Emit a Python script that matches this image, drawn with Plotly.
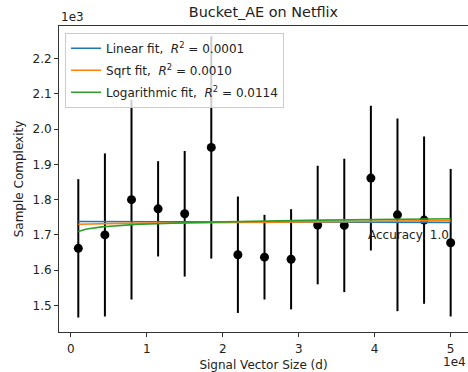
import numpy as np
import plotly.graph_objects as go

# ---- data ----
signal_size = [1000, 4500, 8000, 11500, 15000, 18500, 22000, 25500,
               29000, 32500, 36000, 39500, 43000, 46500, 50000]
sample_complexity = [1662, 1700, 1800, 1774, 1760, 1948, 1644, 1637,
                     1631, 1728, 1727, 1861, 1757, 1742, 1678]
sample_err = [196, 231, 283, 135, 178, 315, 165, 120,
              142, 168, 189, 205, 273, 237, 209]

x_ticks = [0, 10000, 20000, 30000, 40000, 50000]
x_tick_labels = ["0", "1", "2", "3", "4", "5"]
y_ticks = [1500, 1600, 1700, 1800, 1900, 2000, 2100, 2200]
y_tick_labels = ["1.5", "1.6", "1.7", "1.8", "1.9", "2.0", "2.1", "2.2"]

fit_labels = ["Linear fit,&nbsp; <i>R</i><sup>2</sup> = 0.0001",
              "Sqrt fit,&nbsp; <i>R</i><sup>2</sup> = 0.0010",
              "Logarithmic fit,&nbsp; <i>R</i><sup>2</sup> = 0.0114"]
fit_colors = ["#1f77b4", "#ff7f0e", "#2ca02c"]

# ---- fits (least squares on the data) ----
xa = np.array(signal_size, dtype=float)
ya = np.array(sample_complexity, dtype=float)
xf = np.linspace(xa.min(), xa.max(), 300)
transforms = [lambda v: v, np.sqrt, np.log]
fit_curves = []
for tf in transforms:
    b, a = np.polyfit(tf(xa), ya, 1)
    fit_curves.append(a + b * tf(xf))

FONT = "DejaVu Sans"
FS = 12
TXT = "#222"
fig = go.Figure()

fig.add_trace(go.Scatter(
    x=signal_size, y=sample_complexity, mode="markers",
    marker=dict(color="black", size=9),
    error_y=dict(type="data", array=sample_err, visible=True,
                 color="black", thickness=2, width=0),
    showlegend=False))

for i, (lab, col, yc) in enumerate(zip(fit_labels, fit_colors, fit_curves)):
    fig.add_trace(go.Scatter(x=xf, y=yc, mode="lines", name=lab,
                             legendgroup=f"g{i}",
                             line=dict(color=col, width=1.6)))

axis_common = dict(showgrid=False, zeroline=False, showline=True,
                   linecolor="#333", linewidth=1, ticks="outside",
                   ticklen=4, tickcolor="#333",
                   tickfont=dict(family=FONT, size=FS, color=TXT))

fig.update_layout(
    width=468, height=372,
    margin=dict(l=59, r=0, t=26, b=40),
    paper_bgcolor="white", plot_bgcolor="white",
    font=dict(family=FONT, size=FS, color=TXT),
    title=dict(text="Bucket_AE on Netflix", x=0.5, xref="paper",
               y=1 - 12 / 372, yref="container", yanchor="middle",
               xanchor="center", font=dict(family=FONT, size=14.4, color=TXT)),
    xaxis=dict(range=[-1540, 52280], tickvals=x_ticks, ticktext=x_tick_labels,
               mirror=True, ticklabelstandoff=2,
               title=dict(text="Signal Vector Size (d)", standoff=6,
                          font=dict(family=FONT, size=FS, color=TXT)),
               **axis_common),
    yaxis=dict(range=[1425, 2292], tickvals=y_ticks, ticktext=y_tick_labels,
               title=dict(text="Sample Complexity", standoff=6,
                          font=dict(family=FONT, size=FS, color=TXT)),
               **axis_common),
    legend=dict(x=0.0147, y=0.978, xanchor="left", yanchor="top",
                bgcolor="rgba(255,255,255,0.8)", bordercolor="#cccccc",
                borderwidth=1, itemwidth=30, tracegroupgap=3,
                font=dict(family=FONT, size=FS, color=TXT)),
    annotations=[
        dict(text="1e3", xref="paper", yref="paper", x=0, y=1,
             xanchor="left", yanchor="bottom", showarrow=False,
             font=dict(family=FONT, size=FS, color=TXT)),
        dict(text="1e4", xref="paper", yref="paper", x=1, y=-0.098,
             xanchor="right", yanchor="middle", showarrow=False,
             font=dict(family=FONT, size=FS, color=TXT)),
        dict(text="Accuracy: 1.0", xref="x", yref="y", x=50000, y=1700,
             xanchor="right", yanchor="middle", showarrow=False,
             font=dict(family=FONT, size=FS, color=TXT)),
    ],
)

fig.write_html("out.html")
